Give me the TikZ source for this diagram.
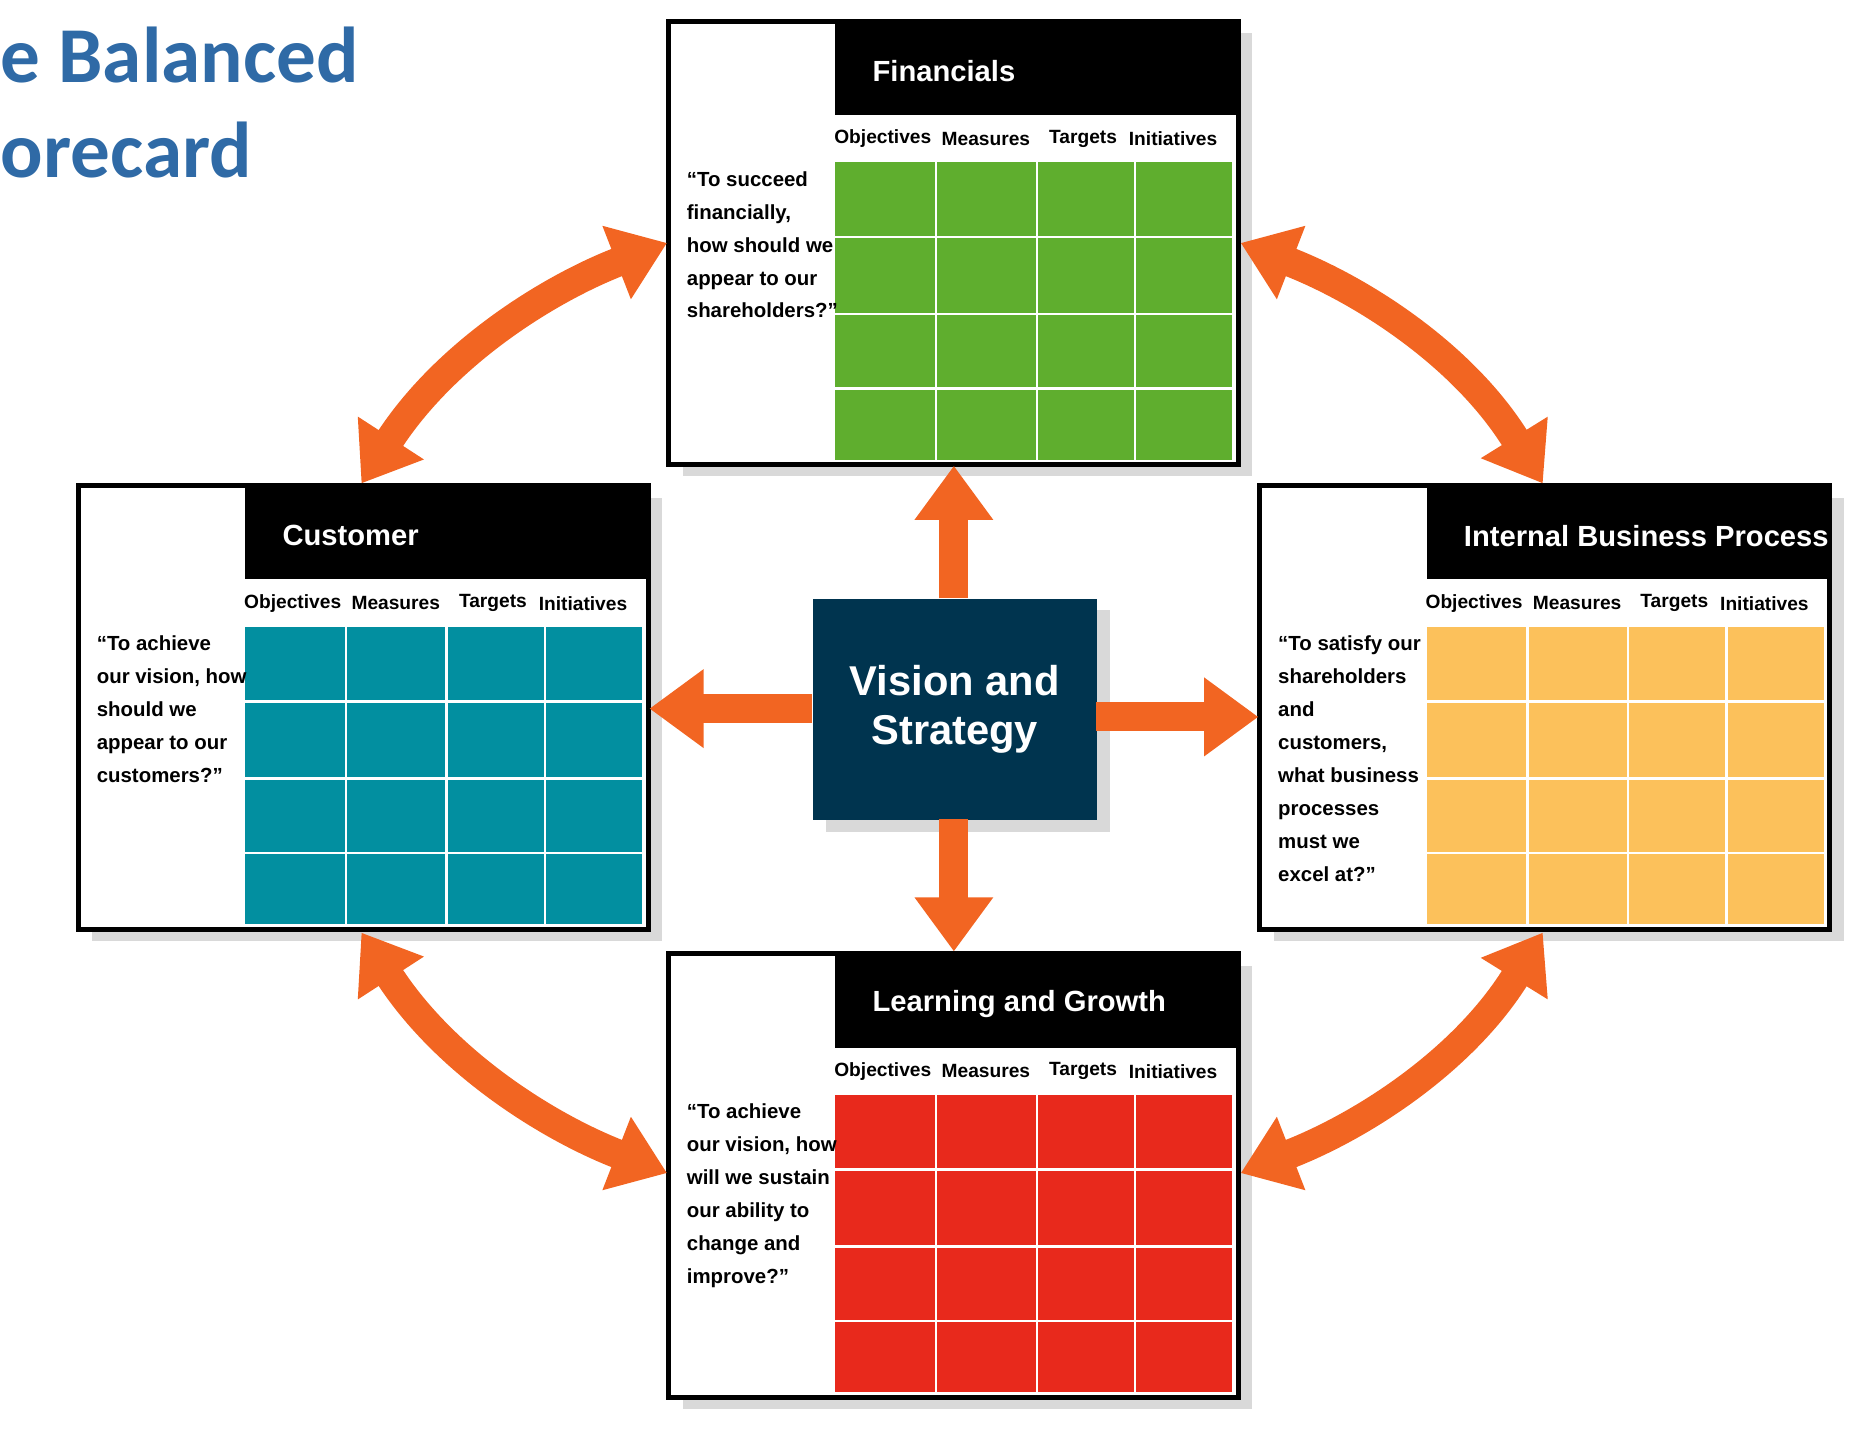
\documentclass[tikz,border=0pt]{standalone}
\usepackage{fontspec}
\setmainfont{Liberation Sans}
\newfontfamily\titlefont{Carlito}
\usetikzlibrary{arrows.meta}
\definecolor{org}{HTML}{F26522}
\definecolor{navy}{HTML}{00344F}
\definecolor{ttl}{HTML}{2F6AA6}
\definecolor{gr}{HTML}{5FAE2E}
\definecolor{tl}{HTML}{028FA0}
\definecolor{yl}{HTML}{FCC15B}
\definecolor{rd}{HTML}{E8291C}
\definecolor{shd}{HTML}{D9D9D9}
\tikzset{
  oarr/.style={draw=org,line width=7pt,
    {Triangle[width=18pt,length=13pt]}-{Triangle[width=18pt,length=13pt]}},
  sarr/.style={draw=org,line width=7pt,-{Triangle[width=18pt,length=13pt]}},
  hdr/.style={text=white,font=\bfseries\fontsize{7}{8}\selectfont,anchor=west},
  col/.style={font=\bfseries\fontsize{4.6}{5}\selectfont,anchor=center},
  quote/.style={font=\bfseries\fontsize{4.9}{7.9}\selectfont,align=left,anchor=north west,inner sep=0pt},
}
\newcommand{\mypanel}[6]{% name, x, y, color, title, quote
  \begin{scope}[shift={(#2,#3)}]
    \fill[shd] (12,10) rectangle (493,384);
    \fill[white] (0,0) rectangle (481,374);
    \fill[black] (141,0) rectangle (481,79);
    \fill[#4] (141,119) rectangle (476,370);
    \foreach \cx in {226,311,394} \draw[white,line width=0.6pt] (\cx,119) -- (\cx,370);
    \foreach \ry in {182,247,310} \draw[white,line width=0.6pt] (141,\ry) -- (476,\ry);
    \draw[black,line width=1.2pt] (0,0) rectangle (481,374);
    \node[hdr] (#1t) at (160,42) {#5};
    \node[col] at (181,99) {Objectives};
    \node[col] at (268,99) {Measures};
    \node[col] at (350,99) {Targets};
    \node[col] at (426,99) {Initiatives};
    \node[quote] (#1q) at (15,126) {#6};
    \coordinate (#1) at (0,0);
  \end{scope}}
\begin{document}
\begin{tikzpicture}[x=0.01cm,y=-0.01cm]
\useasboundingbox (0,0) rectangle (1568,1217);
\node[anchor=base west,inner sep=0pt,text=ttl,font=\titlefont\bfseries\fontsize{19}{20}\selectfont] (t1) at (0,70) {e Balanced};
\node[anchor=base west,inner sep=0pt,text=ttl,font=\titlefont\bfseries\fontsize{19}{20}\selectfont] (t2) at (0,150) {orecard};

\mypanel{fin}{564}{18}{gr}{Financials}{“To succeed\\financially,\\how should we\\appear to our\\shareholders?”}
\mypanel{cus}{66}{410}{tl}{Customer}{“To achieve\\our vision, how\\should we\\appear to our\\customers?”}
\mypanel{ibp}{1063}{410}{yl}{Internal Business Process}{“To satisfy our\\shareholders\\and\\customers,\\what business\\processes\\must we\\excel at?”}
\mypanel{lg}{564}{805}{rd}{Learning and Growth}{“To achieve\\our vision, how\\will we sustain\\our ability to\\change and\\improve?”}

\fill[shd] (697,515) rectangle (937,702);
\node[fill=navy,minimum width=240*0.01cm,minimum height=186*0.01cm,anchor=north west,inner sep=0pt,
  text=white,align=center,font=\bfseries\fontsize{10}{11.6}\selectfont] (vis) at (685,505) {Vision and\\Strategy};

\coordinate (vt) at (805,505); \coordinate (ft) at (805,393);
\coordinate (vb) at (805,691); \coordinate (lt) at (805,803);
\coordinate (vl) at (685,598); \coordinate (cr) at (548,598);
\coordinate (vr) at (925,605); \coordinate (ir) at (1062,605);
\draw[sarr] (vt) -- (ft);
\draw[sarr] (vb) -- (lt);
\draw[sarr] (vl) -- (cr);
\draw[sarr] (vr) -- (ir);

\coordinate (c1) at (305,408); \coordinate (f1) at (563,205);
\coordinate (f2) at (1047,205); \coordinate (i1) at (1302,408);
\coordinate (c2) at (305,787); \coordinate (l1) at (563,990);
\coordinate (l2) at (1047,990); \coordinate (i2) at (1302,787);
\draw[oarr] (c1) .. controls (375,300) and (460,245) .. (f1);
\draw[oarr] (f2) .. controls (1150,245) and (1235,300) .. (i1);
\draw[oarr] (c2) .. controls (375,895) and (460,950) .. (l1);
\draw[oarr] (l2) .. controls (1150,950) and (1235,895) .. (i2);
\end{tikzpicture}
\end{document}
